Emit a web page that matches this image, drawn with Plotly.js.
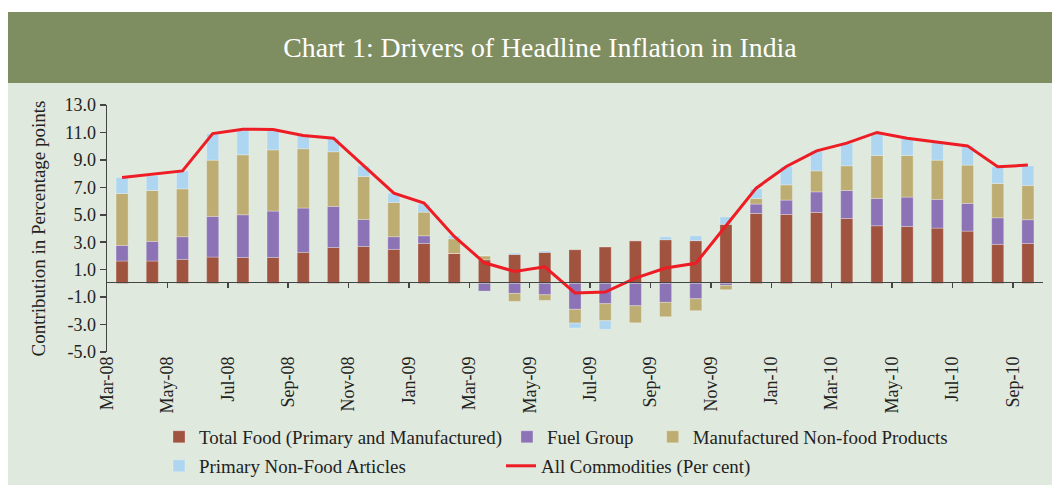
<!DOCTYPE html>
<html>
<head>
<meta charset="utf-8">
<script src="https://cdn.plot.ly/plotly-3.0.1.min.js"></script>
<style>
html,body{margin:0;padding:0;background:#fff;}
#chart{width:1052px;height:485px;}
</style>
</head>
<body>
<div id="chart"></div>
<script>
// ---- data (contribution in percentage points) ----
const months = ['Mar-08','Apr-08','May-08','Jun-08','Jul-08','Aug-08','Sep-08','Oct-08','Nov-08','Dec-08',
  'Jan-09','Feb-09','Mar-09','Apr-09','May-09','Jun-09','Jul-09','Aug-09','Sep-09','Oct-09','Nov-09','Dec-09',
  'Jan-10','Feb-10','Mar-10','Apr-10','May-10','Jun-10','Jul-10','Aug-10','Sep-10'];
const totalFood = [1.63,1.63,1.75,1.92,1.89,1.89,2.26,2.62,2.69,2.48,2.91,2.18,1.72,2.11,2.26,2.45,2.65,3.11,3.18,3.11,4.30,5.10,5.02,5.17,4.73,4.20,4.15,4.03,3.81,2.84,2.91];
const fuelGroup = [1.14,1.43,1.65,2.96,3.11,3.38,3.23,2.99,1.97,0.92,0.56,0.00,-0.56,-0.73,-0.83,-1.89,-1.48,-1.63,-1.38,-1.12,-0.15,0.68,1.05,1.50,2.04,1.99,2.14,2.09,2.02,1.94,1.73];
const manufNonFood = [3.78,3.71,3.49,4.10,4.37,4.46,4.32,3.98,3.13,2.50,1.72,1.07,0.29,-0.58,-0.41,-1.00,-1.24,-1.24,-1.05,-0.87,-0.31,0.41,1.11,1.53,1.80,3.13,3.03,2.86,2.79,2.50,2.50];
const primaryNonFood = [1.17,1.07,1.31,1.94,1.87,1.48,0.97,0.99,0.78,0.68,0.61,0.22,0.00,0.10,0.10,-0.36,-0.63,0.00,0.22,0.36,0.55,0.70,1.34,1.46,1.65,1.67,1.26,1.31,1.40,1.22,1.43];
const allCommodities = [7.72,7.96,8.20,10.92,11.24,11.21,10.78,10.58,8.56,6.58,5.85,3.42,1.50,0.87,1.21,-0.70,-0.63,0.39,1.12,1.46,4.20,6.94,8.52,9.66,10.22,11.00,10.58,10.29,10.02,8.50,8.62];
const yTickVals = [-5,-3,-1,1,3,5,7,9,11,13];
const yTickText = ['-5.0','-3.0','-1.0','1.0','3.0','5.0','7.0','9.0','11.0','13.0'];

// ---- layout geometry ----
const W = 1052, H = 485;
const MG = {l:107, r:9, t:105, b:133};
const PW = W - MG.l - MG.r, PH = H - MG.t - MG.b;
const px2x = X => (X - MG.l) / PW;
const px2y = Y => (MG.t + PH - Y) / PH;
const Y0 = -5, Y1 = 13;
const zeroFrac = (0 - Y0) / (Y1 - Y0);

const idx = months.map((m,i)=>i);
const tickVals = [], tickText = [];
months.forEach((m,i)=>{ if(i%2===0){ tickVals.push(i-0.5); tickText.push(m); } });

const FONT = 'Liberation Serif, Times New Roman, serif';
const barLine = {color:'rgba(255,255,255,0.35)', width:0.8};
const NB = '\u00a0';

const traces = [
  {type:'bar', name:'Total Food (Primary and Manufactured)', x:idx, y:totalFood,
   marker:{color:'#a0533f', line:barLine}, legend:'legend'},
  {type:'bar', name:'Fuel Group' + NB.repeat(3), x:idx, y:fuelGroup,
   marker:{color:'#8b73b5', line:barLine}, legend:'legend'},
  {type:'bar', name:'Manufactured Non-food Products', x:idx, y:manufNonFood,
   marker:{color:'#bdad73', line:barLine}, legend:'legend'},
  {type:'bar', name:'Primary Non-Food Articles', x:idx, y:primaryNonFood,
   marker:{color:'#aed6f0', line:barLine}, legend:'legend2'},
  {type:'scatter', mode:'lines', name:'All Commodities (Per cent)', x:idx, y:allCommodities,
   line:{color:'#ee1c25', width:3}, legend:'legend2'},
  // empty helper trace so the zero-line category axis (ticks at y=0) exists
  {type:'scatter', mode:'markers', x:[], y:[], xaxis:'x2', yaxis:'y3', showlegend:false, hoverinfo:'skip'}
];

const legendBase = {orientation:'h', xref:'container', yref:'container', xanchor:'left', yanchor:'top',
  bgcolor:'rgba(0,0,0,0)', traceorder:'normal',
  font:{family:FONT, size:18.9, color:'#222'}};

const layout = {
  width:W, height:H,
  margin:MG,
  paper_bgcolor:'#e0e9dd',
  plot_bgcolor:'rgba(0,0,0,0)',
  barmode:'relative',
  bargap:0.6,
  showlegend:true,
  font:{family:FONT, color:'#222'},
  title:{text:'Chart 1: Drivers of Headline Inflation in India', xref:'container', yref:'container',
    x:540/W, y:1-47/H, xanchor:'center', yanchor:'middle',
    font:{family:FONT, size:27.8, color:'#ffffff'}},
  xaxis:{range:[-0.5,30.5], tickmode:'array', tickvals:tickVals, ticktext:tickText,
    tickangle:-90, ticks:'', showline:false, showgrid:false, zeroline:false,
    tickfont:{family:FONT, size:18, color:'#222'}},
  xaxis2:{anchor:'y3', side:'top', range:[-0.5,30.5],
    tickmode:'array', tickvals:tickVals, showticklabels:false, ticks:'inside', ticklen:5,
    tickwidth:1.5, tickcolor:'#444', showline:true, linecolor:'#444', linewidth:1.5,
    showgrid:false, zeroline:false},
  yaxis3:{domain:[0, zeroFrac], anchor:'x2', range:[0,1], visible:false, showgrid:false, zeroline:false},
  yaxis:{range:[Y0,Y1], tickmode:'array', tickvals:yTickVals, ticktext:yTickText,
    ticks:'outside', ticklen:6, tickwidth:1.5, tickcolor:'#444', showline:true, linecolor:'#444', linewidth:1.5,
    showgrid:false, zeroline:false, tickfont:{family:FONT, size:18, color:'#222'},
    title:{text:'Contribution in Percentage points', font:{family:FONT, size:19, color:'#222'}, standoff:14}},
  legend:Object.assign({}, legendBase, {x:159/W, y:1-418/H}),
  legend2:Object.assign({}, legendBase, {x:159/W, y:1-447/H, entrywidth:297}),
  shapes:[
    {type:'rect', xref:'paper', yref:'paper', x0:px2x(-5), x1:px2x(W+5), y0:px2y(12), y1:px2y(-5),
      fillcolor:'#ffffff', line:{width:0}, layer:'below'},
    {type:'rect', xref:'paper', yref:'paper', x0:px2x(-5), x1:px2x(8), y0:px2y(H+5), y1:px2y(-5),
      fillcolor:'#ffffff', line:{width:0}, layer:'below'},
    {type:'rect', xref:'paper', yref:'paper', x0:px2x(8), x1:px2x(W+5), y0:px2y(83), y1:px2y(12),
      fillcolor:'#7f8e61', line:{width:0}, layer:'below'}
  ]
};

Plotly.newPlot('chart', traces, layout, {displayModeBar:false, staticPlot:true});
</script>
</body>
</html>
